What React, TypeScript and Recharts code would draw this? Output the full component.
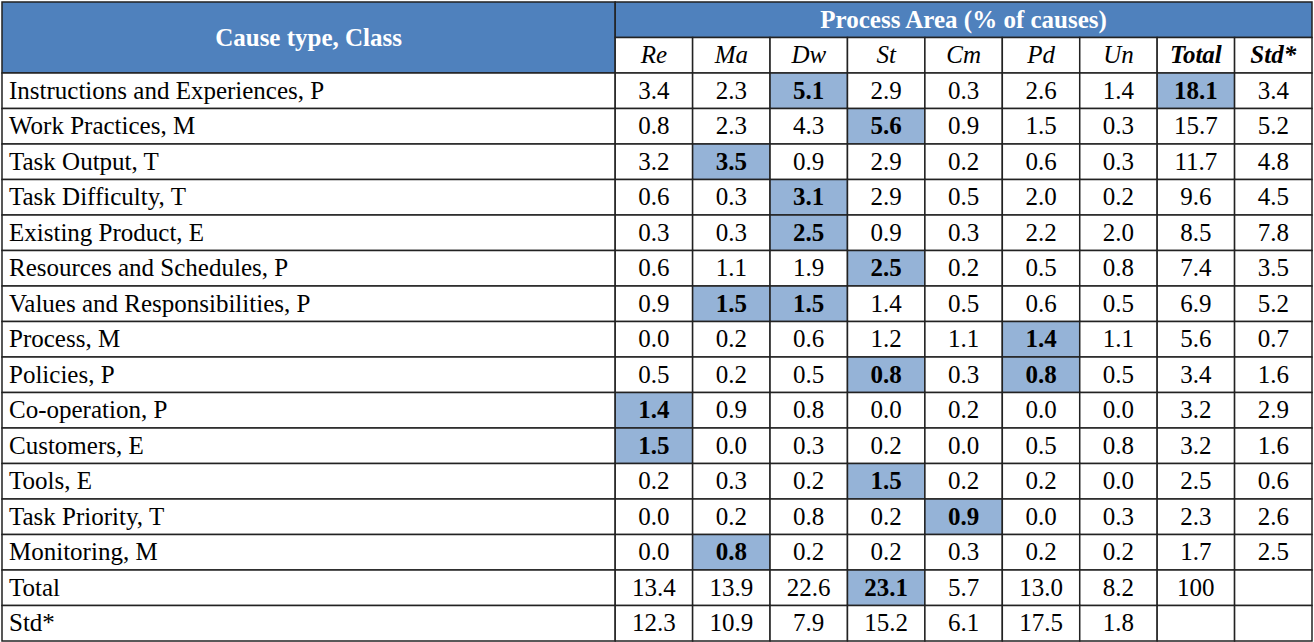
import React from 'react';
import { ScatterChart, Scatter, XAxis, YAxis } from 'recharts';

// Table of root causes by process area, drawn as scatter "cells"
const causes = [
  'Instructions and Experiences, P', 'Work Practices, M', 'Task Output, T', 'Task Difficulty, T',
  'Existing Product, E', 'Resources and Schedules, P', 'Values and Responsibilities, P', 'Process, M',
  'Policies, P', 'Co-operation, P', 'Customers, E', 'Tools, E', 'Task Priority, T', 'Monitoring, M',
  'Total', 'Std*',
];
const columns = ['Re', 'Ma', 'Dw', 'St', 'Cm', 'Pd', 'Un', 'Total', 'Std*'];
const re = [3.4, 0.8, 3.2, 0.6, 0.3, 0.6, 0.9, 0.0, 0.5, 1.4, 1.5, 0.2, 0.0, 0.0, 13.4, 12.3];
const ma = [2.3, 2.3, 3.5, 0.3, 0.3, 1.1, 1.5, 0.2, 0.2, 0.9, 0.0, 0.3, 0.2, 0.8, 13.9, 10.9];
const dw = [5.1, 4.3, 0.9, 3.1, 2.5, 1.9, 1.5, 0.6, 0.5, 0.8, 0.3, 0.2, 0.8, 0.2, 22.6, 7.9];
const st = [2.9, 5.6, 2.9, 2.9, 0.9, 2.5, 1.4, 1.2, 0.8, 0.0, 0.2, 1.5, 0.2, 0.2, 23.1, 15.2];
const cm = [0.3, 0.9, 0.2, 0.5, 0.3, 0.2, 0.5, 1.1, 0.3, 0.2, 0.0, 0.2, 0.9, 0.3, 5.7, 6.1];
const pd = [2.6, 1.5, 0.6, 2.0, 2.2, 0.5, 0.6, 1.4, 0.8, 0.0, 0.5, 0.2, 0.0, 0.2, 13.0, 17.5];
const un = [1.4, 0.3, 0.3, 0.2, 2.0, 0.8, 0.5, 1.1, 0.5, 0.0, 0.8, 0.0, 0.3, 0.2, 8.2, 1.8];
const total = [18.1, 15.7, 11.7, 9.6, 8.5, 7.4, 6.9, 5.6, 3.4, 3.2, 3.2, 2.5, 2.3, 1.7, 100, null];
const std = [3.4, 5.2, 4.8, 4.5, 7.8, 3.5, 5.2, 0.7, 1.6, 2.9, 1.6, 0.6, 2.6, 2.5, null, null];
// highlighted maxima: [row, column]
const highlights = [
  [0, 2], [0, 7], [1, 3], [2, 1], [3, 2], [4, 2], [5, 3], [6, 1], [6, 2], [7, 5],
  [8, 3], [8, 5], [9, 0], [10, 0], [11, 3], [12, 4], [13, 1], [14, 3],
];

const values = [re, ma, dw, st, cm, pd, un, total, std];

const W = 1314;
const H = 642;
const X0 = -8.42;
const X1 = 8.5;
const Y0 = -2.5;
const Y1 = 15.5;
const PX_X = (W - 4) / (X1 - X0);
const PX_Y = (H - 3) / (Y1 - Y0);
const LABEL_W = 7.92;
const BLUE = '#4f81bd';
const HL = '#95b3d7';
const FONT = 'Liberation Serif, Times New Roman, serif';

const fmt = (v: number) => (v === 100 ? '100' : v.toFixed(1));

const cells: any[] = [];
cells.push({ x: X0 + LABEL_W / 2, y: -1.5, w: LABEL_W, h: 2, text: 'Cause type, Class', fill: BLUE, color: '#fff', bold: true, align: 'middle', size: 25 });
cells.push({ x: 4, y: -2, w: 9, h: 1, text: 'Process Area (% of causes)', fill: BLUE, color: '#fff', bold: true, align: 'middle', size: 25 });
columns.forEach((c, i) => {
  cells.push({ x: i, y: -1, w: 1, h: 1, text: c, fill: '#fff', color: '#000', italic: true, bold: i >= 7, align: 'middle' });
});
causes.forEach((name, r) => {
  cells.push({ x: X0 + LABEL_W / 2, y: r, w: LABEL_W, h: 1, text: name, fill: '#fff', color: '#000', align: 'start' });
  values.forEach((col, c) => {
    const v = col[r];
    const hl = highlights.some(([hr, hc]) => hr === r && hc === c);
    cells.push({ x: c, y: r, w: 1, h: 1, text: v == null ? '' : fmt(v), fill: hl ? HL : '#fff', color: '#000', bold: hl, align: 'middle' });
  });
});

const Cell = (props: any) => {
  const { cx, cy, payload } = props;
  const w = payload.w * PX_X;
  const h = payload.h * PX_Y;
  const x = cx - w / 2;
  const y = cy - h / 2;
  const tx = payload.align === 'start' ? x + 7 : cx;
  return (
    <g>
      <rect x={x} y={y} width={w} height={h} fill={payload.fill} stroke="#222" strokeWidth={1.5} />
      <text
        x={tx}
        y={cy + 8}
        textAnchor={payload.align}
        style={{
          fontFamily: FONT,
          fontSize: payload.size || 25,
          fontWeight: payload.bold ? 'bold' : 'normal',
          fontStyle: payload.italic ? 'italic' : 'normal',
        }}
        fill={payload.color}
      >
        {payload.text}
      </text>
    </g>
  );
};

export default function App() {
  return (
    <div style={{ position: 'absolute', left: 0, top: 0, width: W, height: H, background: '#fff' }}>
      <ScatterChart width={W} height={H} margin={{ top: 2, right: 2, bottom: 1, left: 2 }}>
        <XAxis type="number" dataKey="x" domain={[X0, X1]} hide />
        <YAxis type="number" dataKey="y" domain={[Y0, Y1]} reversed hide />
        <Scatter data={cells} shape={<Cell />} isAnimationActive={false} />
      </ScatterChart>
    </div>
  );
}
